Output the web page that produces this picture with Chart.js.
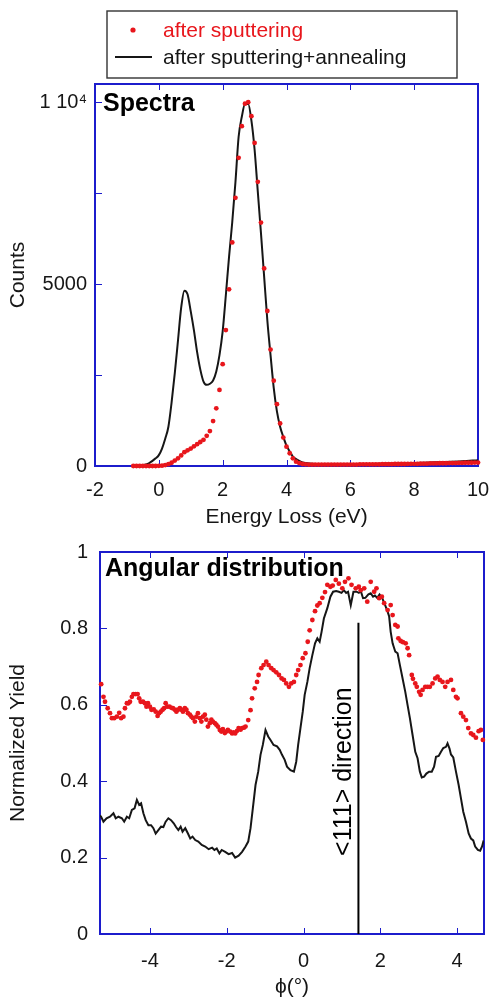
<!DOCTYPE html>
<html><head><meta charset="utf-8">
<script src="https://cdn.jsdelivr.net/npm/chart.js@4.4.1/dist/chart.umd.min.js"></script>
<style>
html,body{margin:0;padding:0;background:#fff;overflow:hidden;width:490px;height:998px;}
canvas{position:absolute;left:0;}
#c1{top:0;}
#c2{top:530px;}
</style></head><body>
<canvas id="c1" width="490" height="530"></canvas>
<canvas id="c2" width="490" height="468"></canvas>
<script>
// ---------- DATA: Spectra ----------
const seriesNames = ['after sputtering', 'after sputtering+annealing'];
const energyRed = [-0.8,-0.7,-0.6,-0.5,-0.4,-0.3,-0.2,-0.1,
 0.0,0.1,0.2,0.3,0.4,0.5,0.6,0.7,0.8,0.9,
 1.0,1.1,1.2,1.3,1.4,1.5,1.6,1.7,1.8,1.9,
 2.0,2.1,2.2,2.3,2.4,2.5,2.6,2.7,2.8,2.9,
 3.0,3.1,3.2,3.3,3.4,3.5,3.6,3.7,3.8,3.9,
 4.0,4.1,4.2,4.3,4.4,4.5,4.6,4.7,4.8,4.9,
 5.0,5.1,5.2,5.3,5.4,5.5,5.6,5.7,5.8,5.9,
 6.0,6.1,6.2,6.3,6.4,6.5,6.6,6.7,6.8,6.9,
 7.0,7.1,7.2,7.3,7.4,7.5,7.6,7.7,7.8,7.9,
 8.0,8.1,8.2,8.3,8.4,8.5,8.6,8.7,8.8,8.9,
 9.0,9.1,9.2,9.3,9.4,9.5,9.6,9.7,9.8,9.9,
 10.0];
const countsRed = [0,0,0,0,0,0,0,0,
 5,10,25,50,90,150,210,290,380,430,
 480,540,600,660,720,830,960,1235,1585,2090,
 2800,3735,4855,6145,7370,8470,9340,9960,10000,9615,
 8880,7810,6690,5430,4260,3200,2345,1700,1170,780,
 530,350,210,120,80,55,45,40,40,40,
 40,40,40,40,40,40,40,40,40,40,
 40,40,40,45,45,45,45,45,45,45,
 50,50,50,50,55,55,55,55,60,60,
 60,60,65,65,65,70,70,70,75,75,
 75,80,80,80,85,85,90,90,90,95,
 95];
const energyLine = [-0.8,-0.7,-0.6,-0.5,-0.4,-0.3,-0.2,-0.1,
 0.0,0.1,0.2,0.3,0.4,0.5,0.6,0.7,0.8,0.9,
 1.0,1.1,1.2,1.3,1.4,1.5,1.6,1.7,1.8,1.9,
 2.0,2.1,2.2,2.3,2.4,2.5,2.6,2.7,2.8,2.9,
 3.0,3.1,3.2,3.3,3.4,3.5,3.6,3.7,3.8,3.9,
 4.0,4.1,4.2,4.3,4.4,4.5,4.6,4.7,4.8,
 5.0,5.5,6.0,6.5,7.0,7.5,8.0,8.5,9.0,9.5,10.0];
const countsLine = [0,5,10,20,40,80,140,210,
 300,480,750,1080,1750,2550,3450,4350,4820,4720,
 4250,3730,3130,2650,2320,2230,2260,2350,2600,3050,
 3700,4700,5750,6700,7800,9050,9600,9950,9950,9500,
 8700,7550,6400,5200,4000,3050,2150,1500,1080,800,
 560,400,260,190,140,100,80,70,60,
 50,50,50,55,60,70,80,95,110,130,160];
const energyTicks = [-2,0,2,4,6,8,10];
const countTicks = [0,2500,5000,7500,10000];
const countTickLabels = ['0','','5000','','1 10\u2074'];

// ---------- DATA: Angular distribution ----------
const phiRed = [-5.27,-5.21,-5.17,-5.10,-5.04,-4.99,-4.93,-4.86,-4.80,-4.75,-4.69,-4.65,-4.60,-4.56,-4.52,-4.47,-4.43,-4.37,-4.32,-4.28,
 -4.24,-4.18,-4.13,-4.09,-4.05,-4.00,-3.96,-3.90,-3.85,-3.80,-3.76,-3.72,-3.67,-3.63,-3.59,-3.55,-3.49,-3.44,-3.40,-3.35,
 -3.31,-3.27,-3.22,-3.18,-3.14,-3.09,-3.05,-3.01,-2.96,-2.92,-2.88,-2.83,-2.79,-2.75,-2.70,-2.66,-2.62,-2.57,-2.53,-2.49,
 -2.44,-2.40,-2.36,-2.31,-2.27,-2.23,-2.18,-2.14,-2.10,-2.05,-2.01,-1.97,-1.91,-1.86,-1.82,-1.78,-1.73,-1.69,-1.64,-1.60,
 -1.55,-1.51,-1.44,-1.38,-1.34,-1.27,-1.21,-1.17,-1.10,-1.04,-0.97,-0.91,-0.84,-0.78,-0.71,-0.64,-0.57,-0.51,-0.45,-0.38,
 -0.32,-0.25,-0.19,-0.14,-0.08,-0.02,0.05,0.11,0.16,0.23,0.30,0.36,0.42,0.49,0.56,0.62,0.70,0.76,0.84,0.92,
 1.01,1.08,1.17,1.25,1.36,1.44,1.49,1.58,1.66,1.75,1.84,1.90,1.97,2.04,2.10,2.19,2.27,2.32,2.39,2.45,
 2.47,2.53,2.59,2.66,2.71,2.75,2.82,2.85,2.91,2.95,3.01,3.05,3.10,3.17,3.23,3.29,3.36,3.43,3.49,3.55,
 3.62,3.69,3.75,3.84,3.90,3.97,4.01,4.10,4.16,4.23,4.29,4.36,4.42,4.49,4.56,4.62,4.67];
const yieldRed = [0.654,0.621,0.608,0.591,0.578,0.565,0.565,0.569,0.579,0.565,0.569,0.591,0.604,0.604,0.608,0.621,0.628,0.628,0.628,0.617,
 0.608,0.608,0.604,0.595,0.604,0.595,0.587,0.588,0.582,0.571,0.578,0.582,0.587,0.591,0.604,0.595,0.595,0.592,0.591,0.587,
 0.582,0.587,0.591,0.587,0.582,0.591,0.587,0.578,0.574,0.569,0.565,0.556,0.569,0.578,0.565,0.556,0.569,0.574,0.561,0.543,
 0.552,0.561,0.556,0.552,0.548,0.543,0.534,0.530,0.536,0.526,0.530,0.534,0.530,0.525,0.528,0.525,0.532,0.539,0.535,0.539,
 0.540,0.543,0.560,0.586,0.617,0.643,0.660,0.678,0.696,0.704,0.713,0.704,0.696,0.691,0.685,0.678,0.669,0.665,0.656,0.647,
 0.656,0.660,0.678,0.691,0.704,0.722,0.735,0.765,0.795,0.822,0.845,0.860,0.866,0.880,0.895,0.914,0.909,0.912,0.927,0.917,
 0.905,0.922,0.931,0.914,0.905,0.909,0.900,0.905,0.870,0.922,0.896,0.905,0.879,0.883,0.866,0.848,0.861,0.835,0.809,0.805,
 0.774,0.767,0.764,0.761,0.748,0.730,0.678,0.668,0.656,0.647,0.634,0.626,0.639,0.647,0.647,0.647,0.656,0.669,0.674,0.665,
 0.660,0.647,0.660,0.665,0.639,0.621,0.617,0.578,0.569,0.560,0.539,0.525,0.521,0.514,0.531,0.534,0.508];
const phiLine = [-5.30,-5.27,-5.21,-5.13,-5.04,-4.95,-4.89,-4.82,-4.73,-4.67,-4.60,-4.54,-4.47,-4.40,-4.34,-4.28,-4.23,-4.17,-4.11,-4.04,
 -3.97,-3.91,-3.85,-3.78,-3.71,-3.65,-3.59,-3.52,-3.45,-3.38,-3.32,-3.26,-3.20,-3.15,-3.08,-3.01,-2.95,-2.89,-2.82,-2.74,
 -2.65,-2.56,-2.47,-2.38,-2.32,-2.26,-2.19,-2.13,-2.04,-1.95,-1.86,-1.78,-1.69,-1.60,-1.51,-1.44,-1.38,-1.32,-1.25,-1.18,
 -1.12,-1.06,-0.99,-0.92,-0.86,-0.78,-0.69,-0.62,-0.56,-0.49,-0.43,-0.34,-0.25,-0.19,-0.14,-0.08,-0.02,0.03,0.10,0.16,
 0.23,0.30,0.36,0.42,0.47,0.53,0.62,0.70,0.77,0.85,0.92,0.99,1.05,1.11,1.16,1.23,1.30,1.38,1.44,1.49,
 1.55,1.61,1.69,1.75,1.81,1.86,1.92,1.98,2.05,2.12,2.19,2.23,2.27,2.32,2.39,2.45,2.51,2.58,2.65,2.71,
 2.77,2.84,2.91,2.97,3.03,3.08,3.14,3.20,3.27,3.34,3.40,3.45,3.52,3.58,3.64,3.71,3.75,3.80,3.84,3.90,
 3.97,4.04,4.10,4.16,4.23,4.30,4.36,4.42,4.47,4.54,4.60,4.65,4.69];
const yieldLine = [0.310,0.307,0.294,0.303,0.307,0.316,0.303,0.307,0.303,0.294,0.307,0.303,0.325,0.329,0.351,0.338,0.342,0.316,0.298,0.285,
 0.285,0.277,0.263,0.272,0.281,0.280,0.294,0.303,0.298,0.290,0.280,0.272,0.281,0.268,0.277,0.263,0.250,0.255,0.246,0.242,
 0.233,0.229,0.222,0.226,0.220,0.224,0.211,0.220,0.215,0.209,0.212,0.200,0.205,0.215,0.229,0.242,0.277,0.329,0.390,0.425,
 0.469,0.495,0.534,0.517,0.508,0.495,0.491,0.482,0.469,0.456,0.438,0.429,0.425,0.451,0.495,0.539,0.582,0.626,0.660,0.696,
 0.730,0.761,0.774,0.765,0.791,0.826,0.853,0.883,0.896,0.898,0.896,0.893,0.900,0.893,0.896,0.861,0.896,0.896,0.893,0.898,
 0.879,0.880,0.889,0.892,0.883,0.886,0.880,0.889,0.879,0.862,0.844,0.831,0.791,0.761,0.739,0.735,0.704,0.669,0.634,0.599,
 0.565,0.521,0.477,0.460,0.425,0.410,0.412,0.420,0.425,0.425,0.438,0.464,0.466,0.477,0.487,0.490,0.499,0.486,0.470,0.462,
 0.425,0.390,0.355,0.320,0.294,0.263,0.250,0.245,0.229,0.220,0.218,0.229,0.245];
const directionPhi = 1.43;
const directionTop = 0.815;
const directionLabel = '<111> direction';
const phiTicks = [-4,-2,0,2,4];
const yieldTicks = [0,0.2,0.4,0.6,0.8,1];
const yieldTickLabels = ['0','0.2','0.4','0.6','0.8','1'];

// ---------- STYLE ----------
const FONT = "'Liberation Sans', Arial, Helvetica, sans-serif";
const BLUE = '#1c1ccc';
const RED = '#e8161c';
const INK = '#161616';

function pts(xs, ys){ return xs.map((x,i)=>({x:x, y:ys[i]})); }

const framePlugin = {
  id:'frame',
  beforeDatasetsDraw(chart){
    const {ctx, chartArea:a, scales} = chart;
    const x = scales.x, y = scales.y;
    ctx.save();
    ctx.strokeStyle = BLUE; ctx.lineWidth = 1;
    x.ticks.forEach(t=>{
      const px = Math.round(x.getPixelForValue(t.value))+0.5;
      ctx.beginPath();
      ctx.moveTo(px,a.bottom); ctx.lineTo(px,a.bottom-6);
      ctx.moveTo(px,a.top); ctx.lineTo(px,a.top+6);
      ctx.stroke();
    });
    y.ticks.forEach(t=>{
      const py = Math.round(y.getPixelForValue(t.value))+0.5;
      ctx.beginPath(); ctx.moveTo(a.left,py); ctx.lineTo(a.left+7,py); ctx.stroke();
    });
    ctx.lineWidth = 2;
    ctx.strokeRect(a.left, a.top, a.right-a.left, a.bottom-a.top);
    ctx.restore();
  }
};

function panelTitle(text, dx, dy){
  return {
    id:'panelTitle',
    afterDraw(chart){
      const {ctx, chartArea:a} = chart;
      ctx.save();
      ctx.font = 'bold 25px ' + FONT;
      ctx.fillStyle = '#000';
      ctx.textBaseline = 'alphabetic';
      ctx.fillText(text, a.left+dx, a.top+dy);
      ctx.restore();
    }
  };
}

const legendPlugin = {
  id:'legendBoxPlugin',
  afterDraw(chart){
    const ctx = chart.ctx;
    const ds = chart.data.datasets;
    ctx.save();
    ctx.fillStyle = '#fff';
    ctx.fillRect(107,11,350,67);
    ctx.strokeStyle = '#333'; ctx.lineWidth = 1.4;
    ctx.strokeRect(107,11,350,67);
    ctx.font = '21px ' + FONT;
    ctx.textBaseline = 'alphabetic';
    ctx.fillStyle = ds[0].backgroundColor;
    ctx.beginPath(); ctx.arc(133,30,2.6,0,Math.PI*2); ctx.fill();
    ctx.fillText(ds[0].label, 163, 36.5);
    ctx.strokeStyle = ds[1].borderColor; ctx.lineWidth = 2;
    ctx.beginPath(); ctx.moveTo(115,57); ctx.lineTo(152,57); ctx.stroke();
    ctx.fillStyle = INK;
    ctx.fillText(ds[1].label, 163, 64);
    ctx.restore();
  }
};

const directionText = {
  id:'directionText',
  afterDatasetsDraw(chart){
    const {ctx, scales:{x,y}} = chart;
    const px = x.getPixelForValue(directionPhi) - 14;
    const py = y.getPixelForValue(0.425);
    ctx.save();
    ctx.translate(px, py);
    ctx.rotate(-Math.PI/2);
    ctx.font = '25px ' + FONT;
    ctx.fillStyle = '#000';
    ctx.textAlign = 'center';
    ctx.textBaseline = 'middle';
    ctx.fillText(directionLabel, 0, 0);
    ctx.restore();
  }
};

function axisCommon(){
  return {grid:{display:false, drawTicks:false}, border:{display:false}};
}

// ---------- Chart 1: Spectra ----------
new Chart(document.getElementById('c1'), {
  type:'scatter',
  data:{datasets:[
    {label:seriesNames[0], data:pts(energyRed,countsRed), showLine:false,
     pointRadius:2.4, pointBorderWidth:0, backgroundColor:RED, borderColor:RED, clip:false},
    {label:seriesNames[1], data:pts(energyLine,countsLine), showLine:true,
     pointRadius:0, borderColor:INK, backgroundColor:INK, borderWidth:2, cubicInterpolationMode:'monotone'}
  ]},
  options:{
    responsive:false, animation:false, events:[],
    layout:{padding:{left:0, right:12, top:84, bottom:0}},
    plugins:{legend:{display:false}, tooltip:{enabled:false}},
    scales:{
      x:Object.assign(axisCommon(), {
        type:'linear', min:-2, max:10,
        afterBuildTicks:s=>{ s.ticks = energyTicks.map(v=>({value:v})); },
        afterFit:s=>{ s.height = 64; s.paddingLeft = 0; s.paddingRight = 0; },
        ticks:{color:INK, font:{family:FONT, size:20}, padding:12, maxRotation:0, autoSkip:false,
               callback:(v)=>String(v)},
        title:{display:true, text:'Energy Loss (eV)', color:INK, font:{family:FONT, size:21, lineHeight:1.2}, padding:{top:0,bottom:0}}
      }),
      y:Object.assign(axisCommon(), {
        type:'linear', min:0, max:10500,
        afterBuildTicks:s=>{ s.ticks = countTicks.map(v=>({value:v})); },
        afterFit:s=>{ s.width = 95; s.paddingTop = 0; s.paddingBottom = 0; },
        ticks:{color:INK, font:{family:FONT, size:20}, padding:8, autoSkip:false,
               callback:(v)=>countTickLabels[countTicks.indexOf(v)]},
        title:{display:true, text:'Counts', color:INK, font:{family:FONT, size:21, lineHeight:1.2}, padding:{top:6,bottom:0}}
      })
    }
  },
  plugins:[framePlugin, panelTitle('Spectra', 8, 27), legendPlugin]
});

// ---------- Chart 2: Angular distribution ----------
new Chart(document.getElementById('c2'), {
  type:'scatter',
  data:{datasets:[
    {label:seriesNames[0], data:pts(phiRed,yieldRed), showLine:false,
     pointRadius:2.4, pointBorderWidth:0, backgroundColor:RED, borderColor:RED, clip:false},
    {label:seriesNames[1], data:pts(phiLine,yieldLine), showLine:true,
     pointRadius:0, borderColor:INK, backgroundColor:INK, borderWidth:2},
    {label:directionLabel, data:[{x:directionPhi,y:0},{x:directionPhi,y:directionTop}], showLine:true,
     pointRadius:0, borderColor:'#000', borderWidth:2}
  ]},
  options:{
    responsive:false, animation:false, events:[],
    layout:{padding:{left:0, right:6, top:22, bottom:0}},
    plugins:{legend:{display:false}, tooltip:{enabled:false}},
    scales:{
      x:Object.assign(axisCommon(), {
        type:'linear', min:-5.3, max:4.7,
        afterBuildTicks:s=>{ s.ticks = phiTicks.map(v=>({value:v})); },
        afterFit:s=>{ s.height = 64; s.paddingLeft = 0; s.paddingRight = 0; },
        ticks:{color:INK, font:{family:FONT, size:20}, padding:15, maxRotation:0, autoSkip:false,
               callback:(v)=>String(v)},
        title:{display:true, text:'\u03D5(\u00B0)', color:INK, font:{family:FONT, size:21, lineHeight:1.0}, padding:{top:0,bottom:0}}
      }),
      y:Object.assign(axisCommon(), {
        type:'linear', min:0, max:1,
        afterBuildTicks:s=>{ s.ticks = yieldTicks.map(v=>({value:v})); },
        afterFit:s=>{ s.width = 100; s.paddingTop = 0; s.paddingBottom = 0; },
        ticks:{color:INK, font:{family:FONT, size:20}, padding:12, autoSkip:false,
               callback:(v)=>yieldTickLabels[yieldTicks.indexOf(v)]},
        title:{display:true, text:'Normalized Yield', color:INK, font:{family:FONT, size:21, lineHeight:1.2}, padding:{top:6,bottom:0}}
      })
    }
  },
  plugins:[framePlugin, panelTitle('Angular distribution', 5, 24), directionText]
});
</script>
</body></html>
